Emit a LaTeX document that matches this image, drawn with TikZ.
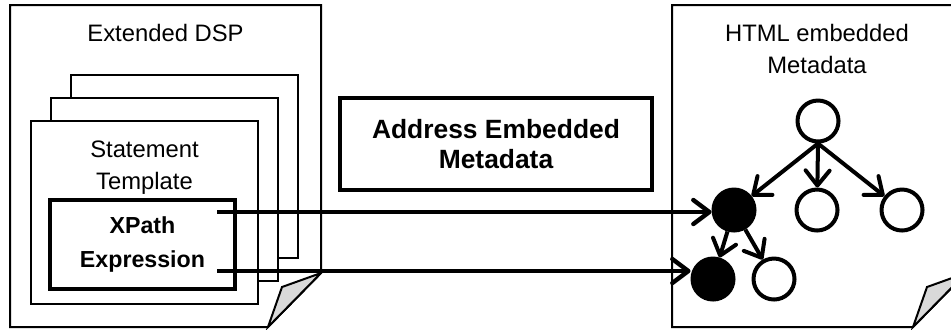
\documentclass[tikz,border=0pt]{standalone}
\usepackage{fontspec}
\setmainfont{Liberation Sans}
\usetikzlibrary{arrows.meta}

\begin{document}
\begin{tikzpicture}[x=0.5pt,y=-0.5pt]
	\tikzstyle{sheet}=[draw=black,line width=1pt,fill=white]
	\tikzstyle{fold}=[draw=black,line width=1pt,fill=gray!30]
	\tikzstyle{tplframe}=[rectangle,draw=black,line width=1pt,fill=white,minimum width=113.5pt,minimum height=91.5pt,inner sep=0pt]
	\tikzstyle{doctext}=[font=\fontsize{11.9}{16}\selectfont,align=center,inner sep=0pt]
	\tikzstyle{boldbox}=[rectangle,draw=black,line width=2pt,fill=white,align=center,inner sep=0pt]
	\tikzstyle{element}=[circle,draw=black,line width=2pt,fill=white,minimum size=20.5pt,inner sep=0pt]
	\tikzstyle{hit}=[element,fill=black]
	\tikzstyle{link}=[-{Straight Barb[length=8pt,width=12pt,round]},line width=2.2pt]
	\tikzstyle{treeedge}=[-{Straight Barb[length=7.5pt,width=12pt,round]},line width=2pt]

	\clip (0,0) rectangle (951,329);

	% extended DSP document
	\draw[sheet] (10,5) -- (321,5) -- (321,273) -- (268,327) -- (10,327) -- cycle;
	\draw[fold] (321,273) -- (282,287) -- (268,327) -- cycle;
	\node[doctext] (dsp) at (165.5,33) {Extended DSP};

	\node[tplframe] (tpl3) at (184.5,166.5) {};
	\node[tplframe] (tpl2) at (164.5,189.5) {};
	\node[tplframe] (tpl1) at (144.5,212.5) {};
	\node[doctext] (tpltext) at (144.5,168) {Statement\\Template};
	\node[boldbox,minimum width=92.5pt,minimum height=44.5pt,font=\fontsize{11.6}{17}\bfseries] (xpath) at (142.5,244.5) {XPath\\Expression};

	% address box
	\node[boldbox,minimum width=156pt,minimum height=46pt,font=\fontsize{13.2}{15}\bfseries] (address) at (496,144) {Address Embedded\\Metadata};

	% HTML document
	\draw[sheet] (672,5) -- (966,5) -- (966,273) -- (913,327) -- (672,327) -- cycle;
	\draw[fold] (966,273) -- (927,287) -- (913,327) -- cycle;
	\node[doctext] (html) at (817,49) {HTML embedded\\Metadata};

	\node[element] (root) at (818,121) {};
	\node[hit] (hit1) at (734,210) {};
	\node[element] (md1) at (817,210) {};
	\node[element] (md2) at (902,210) {};
	\node[hit] (hit2) at (713,279) {};
	\node[element] (md3) at (774,279) {};

	\draw[treeedge] (root.south) -- (hit1);
	\draw[treeedge] (root.south) -- (md1);
	\draw[treeedge] (root.south) -- (md2);
	\draw[treeedge] (hit1) -- (hit2);
	\draw[treeedge] (hit1) -- (md3);

	% xpath addressing
	\coordinate (xp1) at (217,212);
	\coordinate (xp2) at (217,271);
	\draw[link] (xp1) -- (xp1 -| hit1.west);
	\draw[link] (xp2) -- (xp2 -| hit2.west);
\end{tikzpicture}
\end{document}
